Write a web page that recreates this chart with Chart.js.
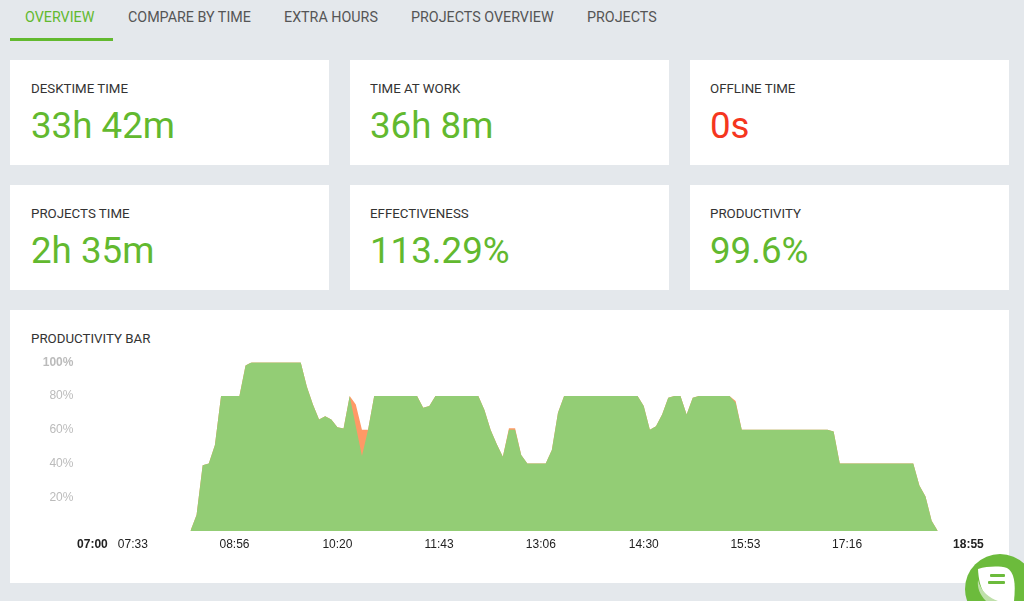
<!DOCTYPE html>
<html lang="en">
<head>
  <meta charset="UTF-8">
  <title>Overview</title>
  <script src="https://cdn.jsdelivr.net/npm/chart.js"></script>
  <style>
    html, body { margin: 0; padding: 0; }
    body { width: 1024px; height: 601px; overflow: hidden; background: #e4e8ec; position: relative; font-family: Roboto, sans-serif; }
    .tab { position: absolute; top: 9px; font-size: 14.3px; line-height: 17px; color: #555; white-space: nowrap; }
    .tab.active { color: #62b92f; }
    .underline { position: absolute; left: 10px; top: 38px; width: 103px; height: 3px; background: #62b92f; }
    .card { position: absolute; width: 319px; height: 105px; background: #fff; }
    .card .label { position: absolute; left: 21px; top: 20px; font-size: 13.3px; line-height: 17px; color: #333; white-space: nowrap; }
    .card .value { position: absolute; left: 21px; top: 43px; font-size: 36.7px; line-height: 46px; color: #62b92f; white-space: nowrap; }
    .card .value.red { color: #f5361e; }
    .card.mid .label, .card.mid .value { left: 20px; }
    .panel { position: absolute; left: 10px; top: 310px; width: 999px; height: 273px; background: #fff; }
    .panel .label { position: absolute; left: 21px; top: 20px; font-size: 13.3px; line-height: 17px; color: #333; }
    #chartWrap { position: absolute; left: 20px; top: 336px; width: 980px; height: 234px; }
    #chat { position: absolute; left: 964px; top: 552px; }
  </style>
</head>
<body>
  <div class="tab active" style="left:25px">OVERVIEW</div>
  <div class="tab" style="left:128px">COMPARE BY TIME</div>
  <div class="tab" style="left:284px">EXTRA HOURS</div>
  <div class="tab" style="left:411px">PROJECTS OVERVIEW</div>
  <div class="tab" style="left:587px">PROJECTS</div>
  <div class="underline"></div>

  <div class="card" style="left:10px;top:60px"><div class="label">DESKTIME TIME</div><div class="value">33h 42m</div></div>
  <div class="card mid" style="left:350px;top:60px"><div class="label">TIME AT WORK</div><div class="value">36h 8m</div></div>
  <div class="card mid" style="left:690px;top:60px"><div class="label">OFFLINE TIME</div><div class="value red">0s</div></div>
  <div class="card" style="left:10px;top:185px"><div class="label">PROJECTS TIME</div><div class="value">2h 35m</div></div>
  <div class="card mid" style="left:350px;top:185px"><div class="label">EFFECTIVENESS</div><div class="value">113.29%</div></div>
  <div class="card mid" style="left:690px;top:185px"><div class="label">PRODUCTIVITY</div><div class="value">99.6%</div></div>

  <div class="panel"><div class="label">PRODUCTIVITY BAR</div></div>
  <div id="chartWrap"><canvas id="productivityChart"></canvas></div>

  <svg id="chat" width="60" height="49" viewBox="0 0 60 49">
    <circle cx="36" cy="37" r="35" fill="#6cbb3c"/>
    <path d="M14 17 C24 14 36 14 43 16 C50 20 52 30 50 49 L30 49 C22 46 15 38 14 17 Z" fill="#fff"/>
    <path d="M14 28 C17 40 26 46 34 49 L22 49 C16 43 13 36 14 28 Z" fill="#bfe0aa"/>
    <rect x="26" y="22" width="15" height="3" rx="1" fill="#6cbb3c"/>
    <rect x="24" y="29" width="17" height="3" rx="1" fill="#6cbb3c"/>
  </svg>

<script>
// minutes after 07:00 for the axis ticks
const tickMinutes = [0, 33, 116, 200, 283, 366, 450, 533, 616, 715];
const tickLabels = ["07:00", "07:33", "08:56", "10:20", "11:43", "13:06", "14:30", "15:53", "17:16", "18:55"];
const yTicks = [20, 40, 60, 80, 100];

// one reading every 5 minutes, starting 08:20
const firstSlot = 80;
const slotLength = 5;

const productive = [
  0, 9.5, 39, 40, 51, 80, 80, 80, 80, 98,
  100, 100, 100, 100, 100, 100, 100, 100, 100, 85.6,
  75, 66, 68, 66, 61.5, 60.7, 80, 62, 44.5, 60,
  80, 80, 80, 80, 80, 80, 80, 80, 73, 74,
  80, 80, 80, 80, 80, 80, 80, 80, 71.7, 60,
  51.6, 44, 60, 60, 45, 40, 40, 40, 40, 48,
  70, 80, 80, 80, 80, 80, 80, 80, 80, 80,
  80, 80, 80, 80, 74, 60, 62, 69, 79, 80,
  80, 69, 79, 80, 80, 80, 80, 80, 80, 76,
  60, 60, 60, 60, 60, 60, 60, 60, 60, 60,
  60, 60, 60, 60, 60, 59, 40, 40, 40, 40,
  40, 40, 40, 40, 40, 40, 40, 40, 40, 27,
  20.5, 6, 0
];

// total including the unproductive part, only shows where it is above the green
const total = [
  0, 9.5, 39, 40, 51, 80, 80, 80, 80, 98,
  100, 100, 100, 100, 100, 100, 100, 100, 100, 85.6,
  75, 66, 68, 66, 61.5, 60.7, 80, 75, 60, 60,
  80, 80, 80, 80, 80, 80, 80, 80, 73, 74,
  80, 80, 80, 80, 80, 80, 80, 80, 71.7, 60,
  51.6, 44, 60.8, 60.8, 45, 40, 40, 40, 40, 48,
  70, 80, 80, 80, 80, 80, 80, 80, 80, 80,
  80, 80, 80, 80, 74, 60, 62, 69, 79, 80,
  80, 69, 79, 80, 80, 80, 80, 80, 80, 77,
  60, 60, 60, 60, 60, 60, 60, 60, 60, 60,
  60, 60, 60, 60, 60, 59, 40, 40, 40, 40,
  40, 40, 40, 40, 40, 40, 40, 40, 40, 27,
  20.5, 6, 0
];

const toPoints = values => values.map((v, i) => ({ x: firstSlot + i * slotLength, y: v }));

new Chart(document.getElementById("productivityChart"), {
  type: "line",
  data: {
    datasets: [
      {
        label: "Productive",
        data: toPoints(productive),
        backgroundColor: "#93cd75",
        borderWidth: 0,
        pointRadius: 0,
        fill: "origin",
        order: 1
      },
      {
        label: "Total",
        data: toPoints(total),
        backgroundColor: "#ff9966",
        borderWidth: 0,
        pointRadius: 0,
        fill: "origin",
        order: 2
      }
    ]
  },
  options: {
    responsive: true,
    maintainAspectRatio: false,
    animation: false,
    layout: { padding: { top: 13, right: 31.6, left: 0, bottom: 0 } },
    plugins: { legend: { display: false }, tooltip: { enabled: false } },
    scales: {
      x: {
        type: "linear",
        min: 0,
        max: 715,
        grid: { display: false, drawTicks: false },
        border: { display: false },
        afterBuildTicks: axis => { axis.ticks = tickMinutes.map(v => ({ value: v })); },
        afterFit: axis => { axis.height = 39; },
        ticks: {
          autoSkip: false,
          maxRotation: 0,
          padding: 6,
          color: "#222",
          font: ctx => ({
            family: "Liberation Sans",
            size: 12,
            weight: (ctx.index === 0 || ctx.index === tickLabels.length - 1) ? "bold" : "normal"
          }),
          callback: (value, index) => tickLabels[index]
        }
      },
      y: {
        min: 0,
        max: 100,
        grid: { display: false, drawTicks: false },
        border: { display: false },
        afterBuildTicks: axis => { axis.ticks = yTicks.map(v => ({ value: v })); },
        afterFit: axis => { axis.width = 72.4; },
        ticks: {
          padding: 19,
          color: "#bbbbbb",
          font: ctx => ({
            family: "Liberation Sans",
            size: 12,
            weight: ctx.tick && ctx.tick.value === 100 ? "bold" : "normal"
          }),
          callback: value => value + "%"
        }
      }
    }
  }
});
</script>
</body>
</html>
